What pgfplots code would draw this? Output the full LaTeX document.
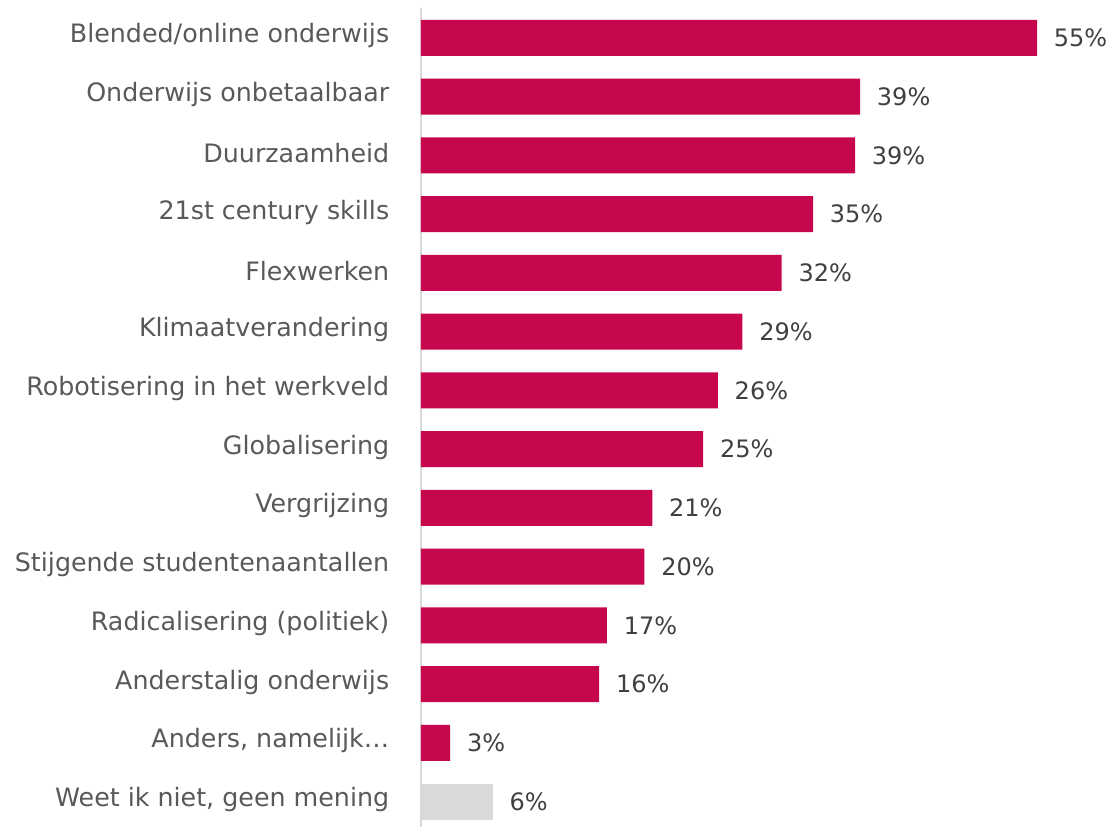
\documentclass[border=0pt]{standalone}
\usepackage{pgfplots}
\usepackage{pgfplotstable}
\pgfplotsset{compat=1.18}
\usepackage{fontspec}
\setmainfont{DejaVu Sans}
\definecolor{barpink}{RGB}{199,7,77}
\definecolor{bargray}{RGB}{217,217,217}
\definecolor{labgray}{RGB}{89,89,89}
\definecolor{valgray}{RGB}{64,64,64}
\definecolor{axgray}{RGB}{217,217,217}

\pgfplotstableread{
y x lab
0 55.0 55
1 39.2 39
2 38.75 39
3 35.0 35
4 32.2 32
5 28.7 29
6 26.5 26
7 25.2 25
8 20.65 21
9 19.95 20
10 16.6 17
11 15.9 16
12 2.6 3
}\mainbars
\pgfplotstableread{
y x lab
13 6.4 6
}\otherbars

\begin{document}
\begin{tikzpicture}
\begin{axis}[
  scale only axis,
  width=504pt, height=614.25pt,
  xmin=0, xmax=60,
  ymin=-0.51, ymax=13.43,
  y dir=reverse,
  xbar, bar width=27pt, bar shift=0pt,
  axis x line=none,
  axis y line=left,
  y axis line style={draw=axgray, line width=1.1pt, -},
  ytick={0,...,13},
  yticklabels={Blended/online onderwijs, Onderwijs onbetaalbaar, Duurzaamheid, 21st century skills, Flexwerken, Klimaatverandering, Robotisering in het werkveld, Globalisering, Vergrijzing, Stijgende studentenaantallen, Radicalisering (politiek), Anderstalig onderwijs, {Anders, namelijk…}, {Weet ik niet, geen mening}},
  ytick style={draw=none},
  yticklabel style={font=\fontsize{19}{21}\selectfont, text=labgray, anchor=east, inner sep=0pt, yshift=1.5pt},
  yticklabel shift=21.5pt,
  point meta=explicit,
  nodes near coords={\pgfmathprintnumber{\pgfplotspointmeta}\%},
  nodes near coords style={font=\fontsize{18}{20}\selectfont, text=valgray, anchor=west, inner sep=0pt, xshift=12.5pt},
  /pgf/number format/assume math mode=true,
  clip=false,
]
\addplot[fill=barpink, draw=none] table[x=x, y=y, meta=lab] {\mainbars};
\addplot[fill=bargray, draw=none] table[x=x, y=y, meta=lab] {\otherbars};
\end{axis}
\pgfresetboundingbox
\path[use as bounding box] ([xshift=-315.75pt]current axis.south west) rectangle ([xshift=13.5pt, yshift=6pt]current axis.north east);
\end{tikzpicture}
\end{document}
